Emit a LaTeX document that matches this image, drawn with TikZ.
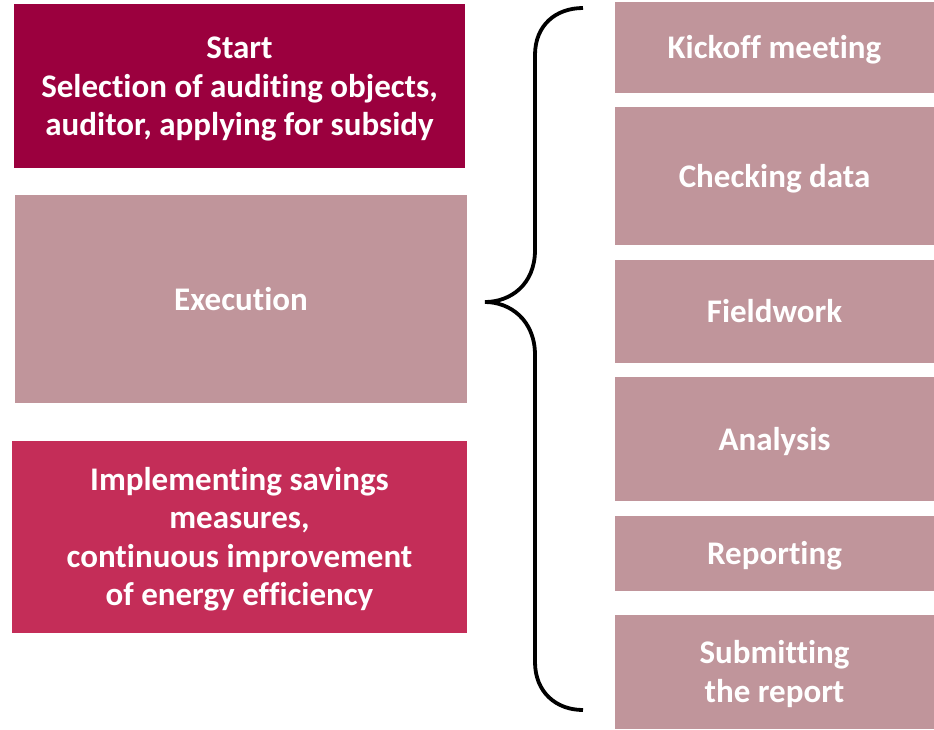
\documentclass[tikz,border=0pt]{standalone}
\usepackage{fontspec}
\setmainfont{Carlito}[Ligatures=NoCommon]
\definecolor{startred}{RGB}{155,0,62}
\definecolor{mauve}{RGB}{192,149,155}
\definecolor{rosered}{RGB}{196,45,88}
\newcommand{\boxtext}[1]{\begin{tabular}{@{}c@{}}\noalign{\vskip7pt}#1\end{tabular}}
\begin{document}
\begin{tikzpicture}[x=1pt,y=-1pt,>=latex]
\tikzset{
  phase/.style={draw=none,shape=rectangle,text=white,inner sep=0pt,
    font=\bfseries\fontsize{33}{38.5}\selectfont},
  task/.style={phase,fill=mauve,minimum width=319pt}
}
\useasboundingbox (0,0) rectangle (934,729);
\node[phase,fill=startred,minimum width=451pt,minimum height=164pt] (start) at (239.5,86) {\boxtext{Start\\Selection of auditing objects,\\auditor, applying for subsidy}};
\node[phase,fill=mauve,minimum width=452pt,minimum height=208pt] (execution) at (241,299) {\boxtext{Execution}};
\node[phase,fill=rosered,minimum width=455pt,minimum height=192pt] (implementing) at (239.5,537) {\boxtext{Implementing savings\\measures,\\continuous improvement\\of energy efficiency}};
\node[task,minimum height=91pt] (kickoff) at (774.5,47.5) {\boxtext{Kickoff meeting}};
\node[task,minimum height=138pt] (checking) at (774.5,176) {\boxtext{Checking data}};
\node[task,minimum height=103pt] (fieldwork) at (774.5,311.5) {\boxtext{Fieldwork}};
\node[task,minimum height=124pt] (analysis) at (774.5,439) {\boxtext{Analysis}};
\node[task,minimum height=75pt] (reporting) at (774.5,553.5) {\boxtext{Reporting}};
\node[task,minimum height=114pt] (submitting) at (774.5,672) {\boxtext{Submitting\\the report}};
\draw[line width=3.8pt] (583,8) .. controls (556,8) and (535,25) .. (535,55) -- (535,250)
  .. controls (535,285) and (510,302) .. (485,302)
  .. controls (510,302) and (535,320) .. (535,355) -- (535,662)
  .. controls (535,692) and (556,710) .. (583,710);
\end{tikzpicture}
\end{document}
